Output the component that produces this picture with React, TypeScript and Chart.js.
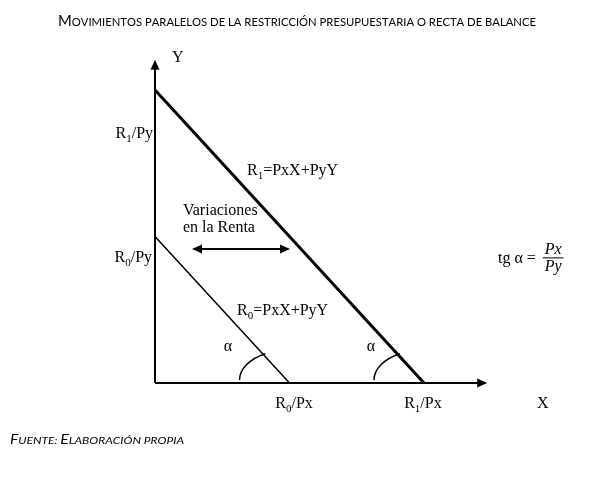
import { useEffect, useRef } from "react";
import { Chart, registerables } from "chart.js";

Chart.register(...registerables);

// ---- data ----
const budgetNames = ["R0", "R1"];
const xIntercepts = [5, 10]; // R/Px
const yIntercepts = [5, 10]; // R/Py
const axisXEnd = 12.35;
const axisYEnd = 11.03;
const incomeArrowX = [1.375, 5.02];
const incomeArrowY = 4.57;
const xRange = [0, 16];
const yRange = [0, 12];

const titleText =
  "Movimientos paralelos de la restricción presupuestaria o recta de balance";
const footerText = "Fuente: Elaboración propia";

const SERIF = "'Liberation Serif', 'Times New Roman', serif";
const SANS = "Lato, 'Open Sans', sans-serif";

type Seg = [string, boolean];

function richText(
  ctx: CanvasRenderingContext2D,
  segs: Seg[],
  x: number,
  y: number,
  align: "left" | "right" | "center",
  size = 16,
  italic = false
) {
  const subSize = Math.round(size * 0.66);
  const fontFor = (sub: boolean) =>
    `${italic ? "italic " : ""}${sub ? subSize : size}px ${SERIF}`;
  let w = 0;
  for (const [t, sub] of segs) {
    ctx.font = fontFor(sub);
    w += ctx.measureText(t).width;
  }
  let cx = align === "left" ? x : align === "right" ? x - w : x - w / 2;
  ctx.textAlign = "left";
  ctx.textBaseline = "alphabetic";
  for (const [t, sub] of segs) {
    ctx.font = fontFor(sub);
    ctx.fillText(t, cx, sub ? y + 4 : y);
    cx += ctx.measureText(t).width;
  }
}

function smallCaps(
  ctx: CanvasRenderingContext2D,
  text: string,
  x: number,
  y: number,
  big: number,
  small: number,
  italic: boolean,
  targetWidth: number
) {
  const pieces = [...text].map((ch) => {
    const up = ch !== ch.toLowerCase();
    return { t: ch.toUpperCase(), size: up ? big : small };
  });
  const fontFor = (s: number) => `${italic ? "italic " : ""}${s}px ${SANS}`;
  let w = 0;
  for (const p of pieces) {
    ctx.font = fontFor(p.size);
    w += ctx.measureText(p.t).width;
  }
  const sc = targetWidth / w;
  ctx.save();
  ctx.translate(x, y);
  ctx.scale(sc, 1);
  ctx.textAlign = "left";
  ctx.textBaseline = "alphabetic";
  let cx = 0;
  for (const p of pieces) {
    ctx.font = fontFor(p.size);
    ctx.fillText(p.t, cx, 0);
    cx += ctx.measureText(p.t).width;
  }
  ctx.restore();
}

function arrowHead(
  ctx: CanvasRenderingContext2D,
  tipX: number,
  tipY: number,
  dx: number,
  dy: number,
  len: number,
  half: number
) {
  const bx = tipX - dx * len;
  const by = tipY - dy * len;
  const nx = -dy;
  const ny = dx;
  ctx.beginPath();
  ctx.moveTo(tipX, tipY);
  ctx.lineTo(bx + nx * half, by + ny * half);
  ctx.lineTo(bx - nx * half, by - ny * half);
  ctx.closePath();
  ctx.fill();
}

const decorPlugin = {
  id: "decor",
  afterDatasetsDraw(chart: any) {
    const ctx: CanvasRenderingContext2D = chart.ctx;
    const xs = chart.scales.x;
    const ys = chart.scales.y;
    const px = (v: number) => xs.getPixelForValue(v);
    const py = (v: number) => ys.getPixelForValue(v);
    ctx.save();
    ctx.fillStyle = "#000";
    ctx.strokeStyle = "#000";

    // axis arrowheads
    arrowHead(ctx, px(axisXEnd), py(0), 1, 0, 10, 4.5);
    arrowHead(ctx, px(0), py(axisYEnd), 0, -1, 10, 4.5);

    // income shift double arrow heads
    arrowHead(ctx, px(incomeArrowX[0]), py(incomeArrowY), -1, 0, 10, 4.5);
    arrowHead(ctx, px(incomeArrowX[1]), py(incomeArrowY), 1, 0, 10, 4.5);

    // angle arcs at the X intercepts
    ctx.lineWidth = 1.5;
    for (let i = 0; i < budgetNames.length; i++) {
      const cx = px(xIntercepts[i]);
      const cy = py(0);
      const s = (py(0) - py(yIntercepts[i])) / (px(xIntercepts[i]) - px(0));
      const rx = 50;
      const ry = 30;
      const tEnd = Math.PI + Math.atan((s * rx) / ry);
      ctx.beginPath();
      ctx.ellipse(cx, cy - 3, rx, ry, 0, Math.PI, tEnd);
      ctx.stroke();
    }

    // labels
    ctx.fillStyle = "#000";
    richText(ctx, [["Y", false]], px(0.63), py(10.96), "left");
    richText(ctx, [["X", false]], px(14.42), py(-0.85), "center");
    richText(ctx, [["R", false], ["1", true], ["/Py", false]], px(-0.07), py(8.36), "right");
    richText(ctx, [["R", false], ["0", true], ["/Py", false]], px(-0.11), py(4.13), "right");
    richText(ctx, [["R", false], ["0", true], ["/Px", false]], px(xIntercepts[0] + 0.17), py(-0.85), "center");
    richText(ctx, [["R", false], ["1", true], ["/Px", false]], px(xIntercepts[1] - 0.04), py(-0.85), "center");
    richText(ctx, [["R", false], ["1", true], ["=PxX+PyY", false]], px(3.42), py(7.1), "left");
    richText(ctx, [["R", false], ["0", true], ["=PxX+PyY", false]], px(3.05), py(2.33), "left");
    richText(ctx, [["Variaciones", false]], px(1.04), py(5.73), "left");
    richText(ctx, [["en la Renta", false]], px(1.04), py(5.15), "left");
    richText(ctx, [["α", false]], px(2.71), py(1.1), "center");
    richText(ctx, [["α", false]], px(8.03), py(1.1), "center");

    // tg α = Px / Py
    richText(ctx, [["tg α =", false]], px(12.75), py(4.1), "left");
    const fx = px(14.8);
    const fy = py(4.27);
    richText(ctx, [["Px", false]], fx, fy - 4, "center", 16, true);
    richText(ctx, [["Py", false]], fx, fy + 13, "center", 16, true);
    ctx.lineWidth = 1;
    ctx.beginPath();
    ctx.moveTo(fx - 10.5, fy);
    ctx.lineTo(fx + 10.5, fy);
    ctx.stroke();

    ctx.restore();
  },
  afterDraw(chart: any) {
    const ctx: CanvasRenderingContext2D = chart.ctx;
    ctx.save();
    ctx.fillStyle = "#000";
    smallCaps(ctx, titleText, 58, 26, 14.5, 11, false, 478);
    smallCaps(ctx, footerText, 10, 444, 12.5, 9.5, true, 174);
    ctx.restore();
  },
};

export default function App() {
  const ref = useRef<HTMLCanvasElement>(null);
  useEffect(() => {
    if (!ref.current) return;
    const line = (data: { x: number; y: number }[], width: number, label: string) => ({
      label,
      data,
      showLine: true,
      borderColor: "#000",
      backgroundColor: "#000",
      borderWidth: width,
      pointRadius: 0,
      pointHoverRadius: 0,
      clip: false as any,
    });
    const chart = new Chart(ref.current, {
      type: "scatter",
      data: {
        datasets: [
          line([{ x: 0, y: 0 }, { x: axisXEnd - 0.2, y: 0 }], 2, "X"),
          line([{ x: 0, y: 0 }, { x: 0, y: axisYEnd - 0.2 }], 2, "Y"),
          line([{ x: 0, y: yIntercepts[0] }, { x: xIntercepts[0], y: 0 }], 1.5, budgetNames[0]),
          line([{ x: 0, y: yIntercepts[1] }, { x: xIntercepts[1], y: 0 }], 3, budgetNames[1]),
          line(
            [
              { x: incomeArrowX[0] + 0.2, y: incomeArrowY },
              { x: incomeArrowX[1] - 0.2, y: incomeArrowY },
            ],
            2,
            "shift"
          ),
        ],
      },
      options: {
        responsive: false,
        animation: false,
        events: [],
        layout: { padding: { left: 155, right: 599 - 585.4, top: 31.4, bottom: 97 } },
        scales: {
          x: { type: "linear", min: xRange[0], max: xRange[1], display: false },
          y: { type: "linear", min: yRange[0], max: yRange[1], display: false },
        },
        plugins: { legend: { display: false }, tooltip: { enabled: false }, title: { display: false } },
      },
      plugins: [decorPlugin],
    });
    return () => chart.destroy();
  }, []);
  return (
    <div style={{ position: "absolute", left: 0, top: 0, width: 599, height: 480, background: "#fff" }}>
      <canvas ref={ref} width={599} height={480} style={{ display: "block" }} />
    </div>
  );
}
